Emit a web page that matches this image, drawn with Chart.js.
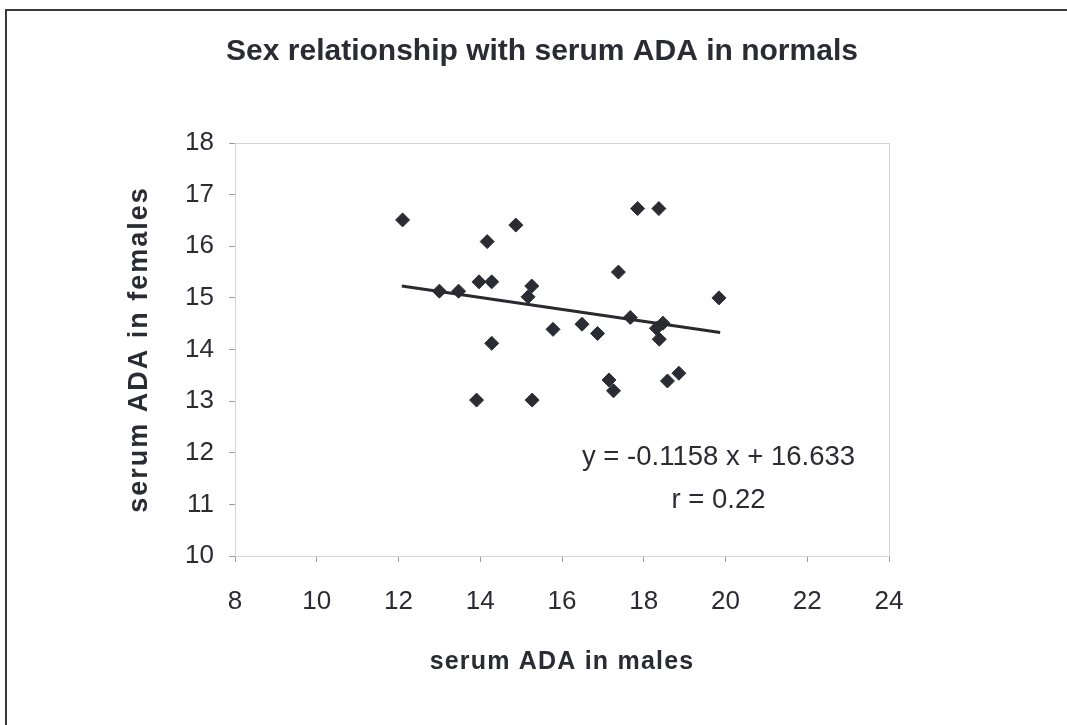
<!DOCTYPE html>
<html>
<head>
<meta charset="utf-8">
<script src="https://cdn.jsdelivr.net/npm/chart.js@4"></script>
<style>
  html, body { margin: 0; padding: 0; background: #fff; }
  #wrap { position: relative; width: 1067px; height: 725px; }
</style>
</head>
<body>
<div id="wrap"><canvas id="myChart" width="1067" height="725"></canvas></div>
<script>
'use strict';

// serum ADA (x = males, y = females)
const maleADA = [12.1, 13.0, 13.47, 13.97, 14.28, 14.17, 14.87, 15.26, 15.17, 14.28,
                 13.91, 15.27, 15.78, 16.49, 16.87, 17.38, 17.85, 18.37, 17.67, 17.15,
                 17.26, 18.31, 18.47, 18.38, 18.58, 18.86, 19.84];
const femaleADA = [16.51, 15.13, 15.13, 15.31, 15.31, 16.09, 16.41, 15.23, 15.02, 14.12,
                   13.02, 13.02, 14.39, 14.49, 14.31, 15.5, 16.73, 16.73, 14.62, 13.41,
                   13.2, 14.41, 14.51, 14.2, 13.39, 13.54, 15.0];

// trend line end points (as drawn)
const trendX = [12.08, 19.87];
const trendY = [15.23, 14.33];

const xTicks = [8, 10, 12, 14, 16, 18, 20, 22, 24];
const yTicks = [10, 11, 12, 13, 14, 15, 16, 17, 18];

const chartTitle = 'Sex relationship with serum ADA in normals';
const xTitle = 'serum ADA in males';
const yTitle = 'serum ADA in females';

const equationLines = ['y = -0.1158 x + 16.633', 'r = 0.22'];
const equationAt = [{x: 19.83, y: 11.91}, {x: 19.83, y: 11.08}];

const ink = '#2b2b33';
const fontFamily = '"Liberation Sans", Arial, sans-serif';

const scatterPoints = maleADA.map((x, i) => ({x: x, y: femaleADA[i]}));
const trendPoints = trendX.map((x, i) => ({x: x, y: trendY[i]}));

// page frame (scan edge), light plot-area box, titles and equation text
const extras = {
    id: 'extras',
    beforeDatasetsDraw(chart) {
        const {ctx, chartArea: a} = chart;
        ctx.save();
        ctx.strokeStyle = '#d4d4d8';
        ctx.lineWidth = 1;
        ctx.strokeRect(a.left + 0.5, a.top + 0.5, a.right - a.left, a.bottom - a.top);
        ctx.restore();
    },
    afterDraw(chart) {
        const {ctx, scales, chartArea: a} = chart;
        ctx.save();
        ctx.strokeStyle = '#3a3a3a';
        ctx.lineWidth = 2;
        ctx.beginPath();
        ctx.moveTo(6, 725);
        ctx.lineTo(6, 10);
        ctx.lineTo(1067, 10);
        ctx.stroke();

        ctx.fillStyle = ink;
        ctx.textAlign = 'center';
        ctx.textBaseline = 'middle';

        // chart title
        ctx.font = 'bold 30px ' + fontFamily;
        ctx.fillText(chartTitle, 542, 52);

        // axis titles, slightly letter-spaced like the original
        ctx.letterSpacing = '1.2px';
        ctx.font = 'bold 25px ' + fontFamily;
        ctx.fillText(xTitle, (a.left + a.right) / 2, a.bottom + 106);

        ctx.letterSpacing = '2px';
        ctx.font = 'bold 27px ' + fontFamily;
        ctx.save();
        ctx.translate(140, (a.top + a.bottom) / 2);
        ctx.rotate(-Math.PI / 2);
        ctx.fillText(yTitle, 0, 0);
        ctx.restore();

        ctx.letterSpacing = '0px';
        ctx.font = '27.5px ' + fontFamily;
        equationLines.forEach((t, i) => {
            ctx.fillText(t, scales.x.getPixelForValue(equationAt[i].x), scales.y.getPixelForValue(equationAt[i].y));
        });
        ctx.restore();
    }
};

const ctx = document.querySelector('#myChart').getContext('2d');

var myChart = new Chart(ctx, {
    type: 'scatter',
    data: {
        datasets: [{
            type: 'line',
            label: 'trend',
            data: trendPoints,
            borderColor: '#2a2a2e',
            borderWidth: 3,
            pointRadius: 0,
            fill: false
        }, {
            label: 'serum ADA',
            data: scatterPoints,
            pointStyle: 'rectRot',
            radius: 7,
            backgroundColor: ink,
            borderColor: ink,
            borderWidth: 1
        }]
    },
    options: {
        responsive: false,
        animation: false,
        layout: { padding: { top: 143, left: 60, right: 178, bottom: 0 } },
        plugins: {
            legend: { display: false },
            tooltip: { enabled: false },
            title: { display: false }
        },
        scales: {
            x: {
                type: 'linear',
                min: 8,
                max: 24,
                afterBuildTicks: s => { s.ticks = xTicks.map(v => ({value: v})); },
                afterFit: s => { s.height = 169; },
                grid: { drawOnChartArea: false, drawTicks: true, tickLength: 6, tickColor: '#9a9aa0' },
                border: { color: '#b8b8c0', width: 1 },
                ticks: { color: ink, padding: 24, font: { family: fontFamily, size: 26 } }
            },
            y: {
                type: 'linear',
                min: 10,
                max: 18,
                afterBuildTicks: s => { s.ticks = yTicks.map(v => ({value: v})); },
                afterFit: s => { s.width = 175; },
                grid: { drawOnChartArea: false, drawTicks: true, tickLength: 6, tickColor: '#9a9aa0' },
                border: { color: '#b8b8c0', width: 1 },
                ticks: { color: ink, padding: 15, font: { family: fontFamily, size: 26 } }
            }
        }
    },
    plugins: [extras]
});
</script>
</body>
</html>
